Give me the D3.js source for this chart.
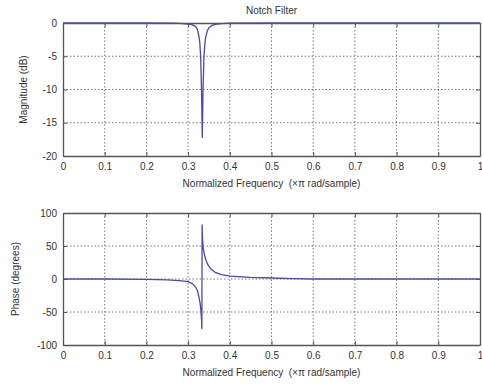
<!DOCTYPE html>
<html><head><meta charset="utf-8">
<script src="https://cdn.jsdelivr.net/npm/d3@7"></script>
<style>
body{margin:0;background:#fff;}
svg{display:block;}
text{font-family:"Liberation Sans",Arial,sans-serif;fill:#333;white-space:pre;}
</style></head>
<body>
<svg id="chart" width="482" height="385"></svg>
<script>
// ---- data ----
const xTicks = [0, 0.1, 0.2, 0.3, 0.4, 0.5, 0.6, 0.7, 0.8, 0.9, 1];
const magTicks = [0, -5, -10, -15, -20];
const phaseTicks = [100, 50, 0, -50, -100];

const magFreq = [0, 0.1, 0.2, 0.26, 0.28, 0.3, 0.31, 0.318, 0.322, 0.326, 0.3281, 0.3301, 0.332, 0.334, 0.3359, 0.3379, 0.3398, 0.342, 0.346, 0.35, 0.356, 0.365, 0.38, 0.4, 0.5, 1];
const magDb   = [0, 0, 0, -0.03, -0.06, -0.15, -0.25, -0.55, -0.9, -2.0, -3.0, -5.0, -9.5, -17.2, -9.8, -5.3, -3.4, -2.2, -1.2, -0.7, -0.4, -0.2, -0.08, -0.03, 0, 0];

const phaseFreq = [0, 0.1, 0.2, 0.25, 0.28, 0.3, 0.31, 0.318, 0.322, 0.326, 0.329, 0.331, 0.3325, 0.333, 0.3336, 0.3345, 0.336, 0.339, 0.343, 0.348, 0.355, 0.365, 0.38, 0.4, 0.45, 0.5, 0.55, 0.6, 1];
const phaseDeg  = [0, 0, -0.5, -1.2, -2.5, -4, -7, -12, -17, -27, -38, -50, -65, -75, 82, 62, 48, 37, 28, 21, 15, 10, 6.5, 4.5, 2.5, 1.5, 0.5, 0, 0];

// ---- drawing ----
const svg = d3.select("#chart");
const lineColor = "#4848b8";
const axisColor = "#555";
const gridColor = "#222";
const fmt = d => String(d);

function panel(cfg) {
  const g = svg.append("g");
  const x = d3.scaleLinear().domain([0, 1]).range([cfg.left, cfg.right]);
  const y = d3.scaleLinear().domain(cfg.domain).range([cfg.bottom, cfg.top]);

  // grid
  g.append("g").selectAll("line.vg").data(xTicks.slice(1, -1)).join("line")
    .attr("x1", d => x(d)).attr("x2", d => x(d))
    .attr("y1", cfg.top).attr("y2", cfg.bottom)
    .attr("stroke", gridColor).attr("stroke-width", 0.8).attr("stroke-dasharray", "1.5,2").attr("opacity", 0.75);
  const innerY = cfg.yTicks.filter(v => v !== cfg.domain[0] && v !== cfg.domain[1]);
  g.append("g").selectAll("line.hg").data(innerY).join("line")
    .attr("x1", cfg.left).attr("x2", cfg.right)
    .attr("y1", d => y(d)).attr("y2", d => y(d))
    .attr("stroke", gridColor).attr("stroke-width", 0.8).attr("stroke-dasharray", "1.5,2").attr("opacity", 0.75);

  const line = d3.line().x(d => x(d[0])).y(d => y(d[1]));
  const pts = cfg.xs.map((v, i) => [v, cfg.ys[i]]);

  // axes
  const bottomAxis = d3.axisBottom(x).tickValues(xTicks).tickFormat(fmt).tickSizeInner(-4).tickSizeOuter(0).tickPadding(7);
  const topAxis = d3.axisTop(x).tickValues(xTicks).tickFormat("").tickSizeInner(-4).tickSizeOuter(0);
  const leftAxis = d3.axisLeft(y).tickValues(cfg.yTicks).tickFormat(fmt).tickSizeInner(-4).tickSizeOuter(0).tickPadding(6);
  const rightAxis = d3.axisRight(y).tickValues(cfg.yTicks).tickFormat("").tickSizeInner(-4).tickSizeOuter(0);

  const styleAxis = sel => {
    sel.selectAll("path").attr("stroke", axisColor).attr("stroke-width", 1.3);
    sel.selectAll("line").attr("stroke", axisColor).attr("stroke-width", 1);
    sel.selectAll("text").attr("font-size", 10).attr("fill", "#333")
      .attr("font-family", "'Liberation Sans', Arial, sans-serif");
  };
  g.append("g").attr("transform", `translate(0,${cfg.bottom})`).call(bottomAxis).call(styleAxis);
  g.append("g").attr("transform", `translate(0,${cfg.top})`).call(topAxis).call(styleAxis);
  g.append("g").attr("transform", `translate(${cfg.left},0)`).call(leftAxis).call(styleAxis);
  g.append("g").attr("transform", `translate(${cfg.right},0)`).call(rightAxis).call(styleAxis);

  g.append("path").datum(pts).attr("d", line)
    .attr("fill", "none").attr("stroke", lineColor).attr("stroke-width", 1.3)
    .attr("stroke-linejoin", "round");

  // labels
  g.append("text").attr("x", (cfg.left + cfg.right) / 2).attr("y", cfg.bottom + 31)
    .attr("text-anchor", "middle").attr("font-size", 10)
    .text("Normalized Frequency  (\u00d7\u03c0 rad/sample)");
  g.append("text")
    .attr("transform", `translate(${cfg.ylabelX},${(cfg.top + cfg.bottom) / 2}) rotate(-90)`)
    .attr("text-anchor", "middle").attr("font-size", 10)
    .text(cfg.ylabel);
}

panel({left: 63, right: 480, top: 23, bottom: 156, domain: [-20, 0], yTicks: magTicks,
       xs: magFreq, ys: magDb, ylabel: "Magnitude (dB)", ylabelX: 27});
panel({left: 63, right: 480, top: 213, bottom: 345, domain: [-100, 100], yTicks: phaseTicks,
       xs: phaseFreq, ys: phaseDeg, ylabel: "Phase (degrees)", ylabelX: 19});

svg.append("text").attr("x", 271.5).attr("y", 14).attr("text-anchor", "middle")
  .attr("font-size", 10).text("Notch Filter");
</script>
</body></html>
